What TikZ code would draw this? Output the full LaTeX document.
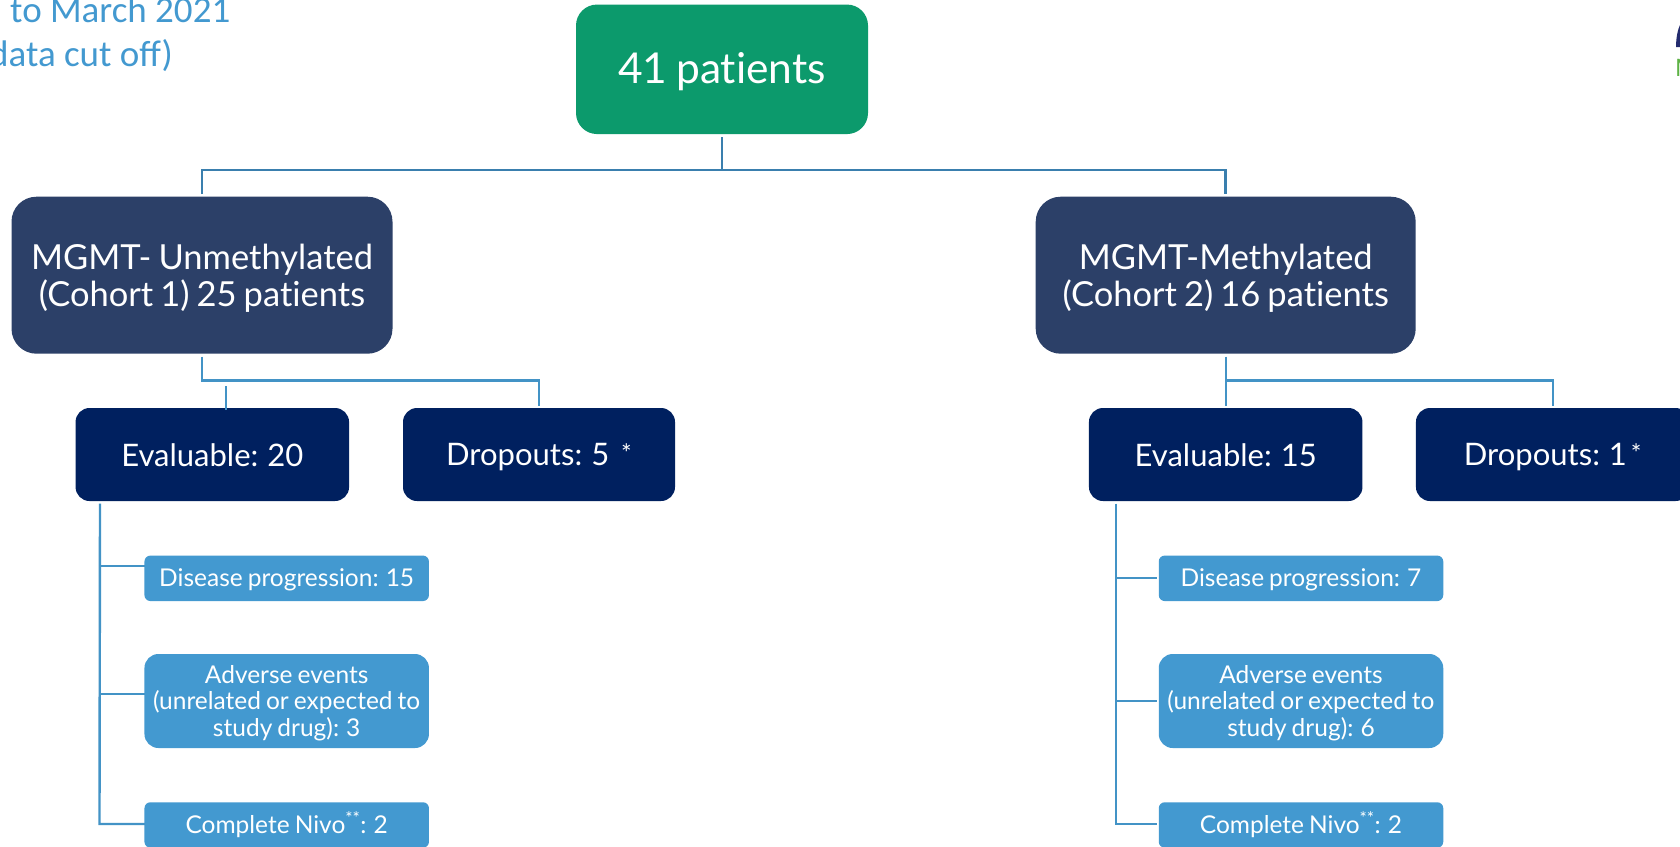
\documentclass[tikz,border=0pt]{standalone}
\usepackage{fontspec}
\setmainfont{Lato}[WordSpace=0.8,Ligatures=NoCommon]
\newfontfamily\carlitofont{Carlito}
\definecolor{gr}{HTML}{0C9A6C}
\definecolor{coh}{HTML}{2C4068}
\definecolor{navy}{HTML}{00205F}
\definecolor{lb}{HTML}{4399D0}
\definecolor{lnA}{HTML}{3A7FAE}
\definecolor{lnB}{HTML}{4393C6}
\definecolor{logoN}{HTML}{232B6E}
\definecolor{logoG}{HTML}{5DB244}
\newcommand{\boxstar}[1]{\smash{\raisebox{#1}{\fontsize{25}{25}\selectfont *}}}
\tikzset{
 x=1pt,y=-1pt,
 boxbase/.style={draw=none,inner sep=0pt,anchor=center},
 boxtext/.style={text=white,align=center,inner sep=0pt},
 roottext/.style={boxtext,yshift=-2pt,font=\fontsize{42.5}{48}\selectfont},
 cohorttext/.style={boxtext,yshift=-3.5pt,font=\fontsize{34.5}{37}\selectfont},
 midtext/.style={boxtext,yshift=-0.5pt,font=\fontsize{31}{34}\selectfont},
 droptext/.style={boxtext,yshift=-2.8pt,font=\fontsize{31}{34}\selectfont},
 smalltext/.style={boxtext,yshift=-1pt,font=\fontsize{24.5}{26.5}\selectfont},
 talltext/.style={boxtext,yshift=-2pt,font=\fontsize{24.5}{26.5}\selectfont},
 endtext/.style={boxtext,font=\fontsize{24.5}{26.5}\selectfont},
 rootbox/.style={boxbase,fill=gr,minimum width=292pt,minimum height=129.5pt,rounded corners=21pt,label={[roottext]center:#1}},
 cohortbox/.style={boxbase,fill=coh,minimum width=380pt,minimum height=157pt,rounded corners=25pt,label={[cohorttext]center:#1}},
 midbox/.style={boxbase,fill=navy,minimum width=273.5pt,minimum height=93pt,rounded corners=14pt,label={[midtext]center:#1}},
 dropbox/.style={boxbase,fill=navy,minimum width=273.5pt,minimum height=93pt,rounded corners=14pt,label={[droptext]center:#1}},
 smallbox/.style={boxbase,fill=lb,minimum width=284.5pt,minimum height=45.5pt,rounded corners=6pt,label={[smalltext]center:#1}},
 endbox/.style={boxbase,fill=lb,minimum width=284.5pt,minimum height=45.5pt,rounded corners=6pt,label={[endtext]center:#1}},
 tallbox/.style={boxbase,fill=lb,minimum width=284.5pt,minimum height=94pt,rounded corners=14pt,label={[talltext]center:#1}},
 linkA/.style={draw=lnA,line width=2.4pt},
 linkB/.style={draw=lnB,line width=2.4pt},
 titletext/.style={text=lb,inner sep=0pt,font=\carlitofont\fontsize{37}{42}\selectfont},
}
\begin{document}
\begin{tikzpicture}
\useasboundingbox (0,0) rectangle (1680,846);
\clip (0,0) rectangle (1680,846);
\fill[white] (0,0) rectangle (1680,846);
% clipped title
\node[titletext,anchor=base west] (t1) at (10,22) {to March 2021};
\node[titletext,anchor=base east] (t2) at (173,66) {(data cut off)};
% clipped logo
\fill[logoN] (1676,47) .. controls (1676,37) and (1678,29) .. (1680,25) -- (1680,47) -- cycle;
\node[anchor=base west,inner sep=0pt,text=logoG,font=\fontsize{24}{24}\selectfont] (logoM) at (1675,76) {M};
% boxes
\node[rootbox={41 patients}] (root) at (722,69.3) {};
\node[cohortbox={MGMT- Unmethylated\\(Cohort 1) 25 patients},minimum width=381pt] (c1) at (202,275.2) {};
\node[cohortbox={MGMT-Methylated\\(Cohort 2) 16 patients}] (c2) at (1225.7,275.2) {};
\node[midbox={Evaluable: 20}] (e1) at (212.3,454.5) {};
\node[dropbox={Dropouts: 5\hspace{12pt}\boxstar{3pt}},minimum width=272pt] (d1) at (539,454.5) {};
\node[midbox={Evaluable: 15}] (e2) at (1225.7,454.5) {};
\node[dropbox={Dropouts: 1\hspace{4pt}\boxstar{3pt}}] (d2) at (1552.7,454.5) {};
\node[smallbox={Disease progression: 15}] (p1) at (286.7,578.3) {};
\node[tallbox={Adverse events\\(unrelated or expected to\\study drug): 3}] (a1) at (286.7,701) {};
\node[endbox={Complete Nivo\textsuperscript{**}: 2}] (n1) at (286.7,825) {};
\node[smallbox={Disease progression: 7}] (p2) at (1301,578.3) {};
\node[tallbox={Adverse events\\(unrelated or expected to\\study drug): 6}] (a2) at (1301,701) {};
\node[endbox={Complete Nivo\textsuperscript{**}: 2}] (n2) at (1301,825) {};
% junctions
\coordinate (r0) at (722,137);
\coordinate (rj) at (722,169.7);
\coordinate (rl) at (202,169.7);
\coordinate (rr) at (1225.5,169.7);
\coordinate (rl2) at (202,194);
\coordinate (rr2) at (1225.5,194);
\draw[linkA] (r0) -- (rj);
\draw[linkA] (rl2) -- (rl) -- (rr) -- (rr2);
% cohort 1 children
\coordinate (c1a) at (202,356.5);
\coordinate (c1b) at (202,380.5);
\coordinate (c1c) at (539,380.5);
\coordinate (c1d) at (539,406);
\coordinate (e1a) at (226,386);
\coordinate (e1b) at (226,410);
\draw[linkB] (c1a) -- (c1b) -- (c1c) -- (c1d);
\draw[linkB] (e1a) -- (e1b);
% cohort 2 children
\coordinate (c2a) at (1226,356.5);
\coordinate (c2b) at (1226,406);
\coordinate (c2c) at (1226,380.5);
\coordinate (c2d) at (1553,380.5);
\coordinate (c2e) at (1553,406);
\draw[linkB] (c2a) -- (c2b);
\draw[linkB] (c2c) -- (c2d) -- (c2e);
% evaluable 1 branches
\coordinate (v1a) at (100,503.7);
\coordinate (v1b) at (100,566);
\coordinate (v1c) at (100,694);
\coordinate (v1d) at (99.5,824);
\coordinate (h1b) at (145,566);
\coordinate (h1c) at (145,694);
\coordinate (h1d) at (145,824);
\draw[linkB] (v1a) -- (v1d) -- (h1d);
\draw[linkB] (v1b) -- (h1b);
\draw[linkB] (v1c) -- (h1c);
% evaluable 2 branches
\coordinate (v2a) at (1115.7,503.7);
\coordinate (v2b) at (1115.7,577.7);
\coordinate (v2c) at (1115.7,701);
\coordinate (v2d) at (1115.7,824);
\coordinate (h2b) at (1156.5,577.7);
\coordinate (h2c) at (1156.5,701);
\coordinate (h2d) at (1156.5,824);
\draw[linkB] (v2a) -- (v2d) -- (h2d);
\draw[linkB] (v2b) -- (h2b);
\draw[linkB] (v2c) -- (h2c);
\end{tikzpicture}
\end{document}
